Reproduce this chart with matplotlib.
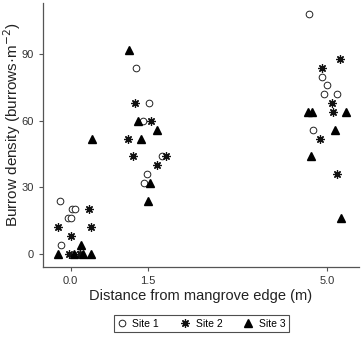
import matplotlib
matplotlib.use("Agg")
import matplotlib.pyplot as plt

plt.rcParams['font.family'] = ['Liberation Sans', 'DejaVu Sans']

# site 1 (open circles)
s1_x = [-0.21, 0.03, 0.08, -0.04, 0.00, -0.19, 0.17,
        1.27, 1.53, 1.42, 1.79, 1.48, 1.43,
        4.65, 4.90, 4.99, 4.94, 5.20, 4.73]
s1_y = [24, 20, 20, 16, 16, 4, 0,
        84, 68, 60, 44, 36, 32,
        108, 80, 76, 72, 72, 56]

# site 2 (stars)
s2_x = [0.36, -0.24, 0.40, 0.00, -0.03, 0.18,
        1.25, 1.56, 1.11, 1.21, 1.86, 1.68,
        5.24, 4.90, 5.09, 5.12, 4.86, 5.20]
s2_y = [20, 12, 12, 8, 0, 0,
        68, 60, 52, 44, 44, 40,
        88, 84, 68, 64, 52, 36]

# site 3 (filled triangles)
s3_x = [-0.25, 0.06, 0.25, 0.39, 0.21, 0.42,
        1.14, 1.32, 1.68, 1.38, 1.55, 1.51,
        4.62, 4.70, 5.36, 5.15, 4.68, 5.27]
s3_y = [0, 0, 0, 0, 4, 52,
        92, 60, 56, 52, 32, 24,
        64, 64, 64, 56, 44, 16]

xticks = [0.0, 1.5, 5.0]
xticklabels = ['0.0', '1.5', '5.0']
yticks = [0, 30, 60, 90]

fig = plt.figure(figsize=(3.63, 3.41), dpi=100)
ax = fig.add_axes([0.118, 0.217, 0.871, 0.773])

h1, = ax.plot(s1_x, s1_y, 'o', mfc='white', mec='#222222', mew=0.7, ms=4.8, ls='none')
h2a, = ax.plot(s2_x, s2_y, marker=(8, 2, 0), color='#111111', mew=0.9, ms=6, ls='none')
h2b, = ax.plot(s2_x, s2_y, 'o', color='#111111', ms=2.6, ls='none')
h3, = ax.plot(s3_x, s3_y, '^', color='black', ms=5.6, ls='none')

ax.set_xlim(-0.54, 5.62)
ax.set_ylim(-6, 113)
ax.set_xticks(xticks)
ax.set_xticklabels(xticklabels)
ax.set_yticks(yticks)
for s in ['top', 'right']:
    ax.spines[s].set_visible(False)
for s in ['left', 'bottom']:
    ax.spines[s].set_color('#555555')
    ax.spines[s].set_linewidth(0.9)
ax.tick_params(colors='#555555', labelcolor='#333333', labelsize=8, length=3, width=0.8)

ax.set_xlabel('Distance from mangrove edge (m)', fontsize=10.5, color='#222222')
ax.xaxis.set_label_coords(0.5, -0.085)
ax.set_ylabel('Burrow density (burrows·m$^{-2}$)', fontsize=11, color='#222222')
ax.yaxis.set_label_coords(-0.064, 0.54)

leg = fig.legend([h1, (h2a, h2b), h3], ['Site 1', 'Site 2', 'Site 3'],
                 loc='center', bbox_to_anchor=(0.554, 0.051), ncol=3,
                 fancybox=False, edgecolor='#222222', fontsize=7.5,
                 handlelength=1.0, handletextpad=0.5, columnspacing=2.0,
                 borderpad=0.3)
leg.get_frame().set_linewidth(0.8)

fig.savefig('out.png', dpi=100)
